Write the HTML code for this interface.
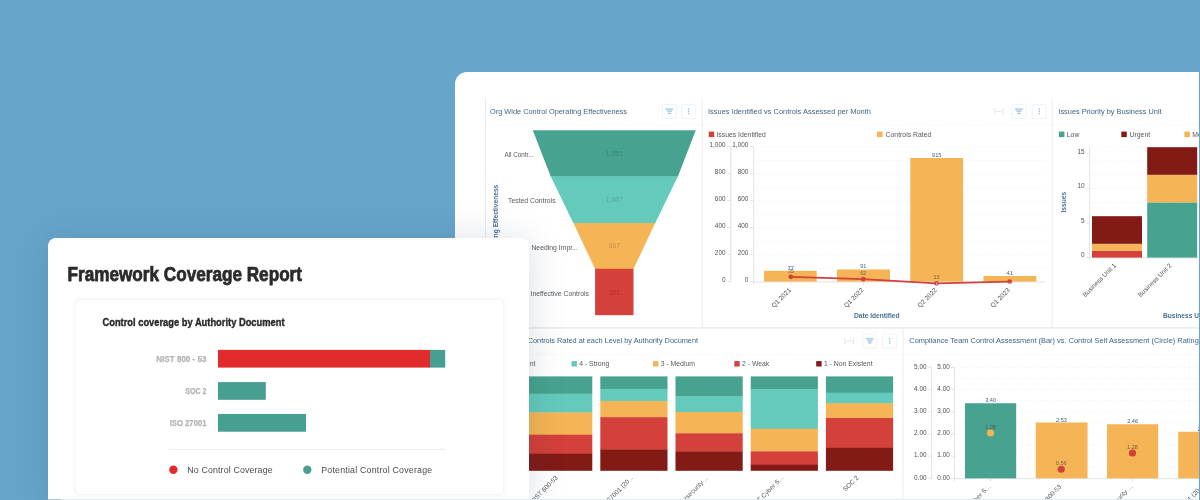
<!DOCTYPE html>
<html lang="en"><head><meta charset="utf-8"><title>Framework Coverage Report</title>
<style>
html,body{margin:0;padding:0}
body{width:1200px;height:500px;overflow:hidden;background:#66a6cb;position:relative;font-family:"Liberation Sans",Arial,sans-serif}
.dash{position:absolute;left:455px;top:72px;width:744px;height:440px;background:#fff;border-radius:12px 0 0 0}
.dsvg{position:absolute;left:0;top:0;width:1200px;height:500px;filter:blur(.42px)}
.dsvg text{font-family:"Liberation Sans",Arial,sans-serif}
.ttl{font-size:7.4px;fill:#3f6482}
.ax{font-size:6.85px;fill:#55595d}
.axr{font-size:6.4px;fill:#55595d}
.axn{font-size:6.4px;fill:#4b4f53}
.axb{font-size:6.6px;fill:#4a7192;font-weight:bold}
.val{font-size:6.85px;fill:#000;fill-opacity:.2}
.lbl{font-size:5.6px;fill:#3f6482}
.lbl2{font-size:5.6px;fill:#4a4a3a;fill-opacity:.75}
.card{position:absolute;left:47.5px;top:237.5px;width:481.5px;height:261.2px;background:#fff;border-radius:8px 8px 0 0;box-shadow:0 3px 36px rgba(25,45,70,.17)}
.inner{position:absolute;left:27px;top:61px;width:429.9px;height:196.3px;border:1px solid #f3f5f8;border-radius:4px;box-sizing:border-box;box-shadow:0 0 3px rgba(120,140,160,.10)}
.strip{position:absolute;left:47.5px;top:499px;width:1151.5px;height:1px;background:linear-gradient(90deg,#a9c6dc 0,#a9c6dc 12px,#dfeaf3 13px,#dfeaf3 100%)}
.csvg{position:absolute;left:0;top:0;width:1200px;height:500px}
.csvg text{font-family:"Liberation Sans",Arial,sans-serif}
.h1{font-size:20px;font-weight:bold;fill:#2b2b2b;stroke:#2b2b2b;stroke-width:.75px;stroke-linejoin:round}
.h2{font-size:11px;font-weight:bold;fill:#2b2b2b;stroke:#2b2b2b;stroke-width:.4px;stroke-linejoin:round}
.cat{font-size:9.4px;font-weight:bold;fill:#b3b3b3;stroke:#b3b3b3;stroke-width:.25px}
.lg{font-size:8.8px;fill:#4a4a4a}
</style></head>
<body>
<div class="dash"></div>
<svg class="dsvg" viewBox="0 0 1200 500">
<defs><clipPath id="dc"><path d="M455 500V84a12 12 0 0 1 12-12H1199V500Z"/></clipPath></defs>
<g clip-path="url(#dc)">
<line x1="485.5" y1="98" x2="485.5" y2="327" stroke="#e9ebee" stroke-width="1"/>
<line x1="485.5" y1="327.9" x2="1199" y2="327.9" stroke="#ececee" stroke-width="1.6"/>
<line x1="702.2" y1="99" x2="702.2" y2="327" stroke="#efeff1" stroke-width="1.2"/>
<line x1="1052.2" y1="99" x2="1052.2" y2="327" stroke="#efeff1" stroke-width="1.2"/>
<line x1="903.1" y1="329" x2="903.1" y2="500" stroke="#efeff1" stroke-width="1.2"/>
<line x1="486" y1="124.6" x2="702" y2="124.6" stroke="#ebeef1" stroke-width="0.8" stroke-dasharray="1 1.5"/>
<line x1="703" y1="124.6" x2="1051.5" y2="124.6" stroke="#ebeef1" stroke-width="0.8" stroke-dasharray="1 1.5"/>
<line x1="1053" y1="124.6" x2="1199" y2="124.6" stroke="#ebeef1" stroke-width="0.8" stroke-dasharray="1 1.5"/>
<line x1="486" y1="354.6" x2="903" y2="354.6" stroke="#ebeef1" stroke-width="0.8" stroke-dasharray="1 1.5"/>
<line x1="904" y1="354.6" x2="1199" y2="354.6" stroke="#ebeef1" stroke-width="0.8" stroke-dasharray="1 1.5"/>
<text x="490" y="113.8" class="ttl" text-anchor="start" textLength="137" lengthAdjust="spacingAndGlyphs">Org Wide Control Operating Effectiveness</text>
<rect x="662.4" y="104.4" width="14" height="14" rx="1.4" fill="#fff" stroke="#eaf0f5" stroke-width="0.8"/>
<path d="M665.5 109.2h7.8M666.8 111.2h5.2M667.6999999999999 113.30000000000001h3.4" stroke="#9cc1e0" stroke-width="1.3" fill="none"/>
<rect x="681.6" y="104.4" width="14" height="14" rx="1.4" fill="#fff" stroke="#eaf0f5" stroke-width="0.8"/>
<circle cx="688.6" cy="109.10000000000001" r="0.8" fill="#9cc1e0"/>
<circle cx="688.6" cy="111.4" r="0.8" fill="#9cc1e0"/>
<circle cx="688.6" cy="113.7" r="0.8" fill="#9cc1e0"/>
<polygon points="532.8,130.2 695.8,130.2 677.8,176.79999999999998 550.8,176.79999999999998" fill="#47a390"/>
<polygon points="550.8,176.6 677.8,176.6 655.2,223.2 573.4,223.2" fill="#64cabb"/>
<polygon points="573.4,223 655.2,223 633.5,269.0 595.1,269.0" fill="#f5b455"/>
<rect x="595.1" y="268.8" width="38.4" height="46.4" fill="#d4403a"/>
<text x="504.5" y="157.3" class="ax" text-anchor="start" textLength="29" lengthAdjust="spacingAndGlyphs">All Contr...</text>
<text x="508" y="203.3" class="ax" text-anchor="start">Tested Controls</text>
<text x="577.8" y="249.6" class="ax" text-anchor="end">Controls Needing Impr...</text>
<text x="589" y="295.8" class="ax" text-anchor="end">Ineffective Controls</text>
<text x="614.4" y="155.8" class="val" text-anchor="middle">1,355</text>
<text x="614.4" y="201.8" class="val" text-anchor="middle">1,007</text>
<text x="614.4" y="248.2" class="val" text-anchor="middle">667</text>
<text x="614.4" y="294.6" class="val" text-anchor="middle">371</text>
<text transform="translate(498 222.5) rotate(-90)" class="axb" text-anchor="middle">Operating Effectiveness</text>
<text x="708" y="113.8" class="ttl" text-anchor="start" textLength="163" lengthAdjust="spacingAndGlyphs">Issues Identified vs Controls Assessed per Month</text>
<path d="M994.8 108.0v6.8M1003.0 108.0v6.8M996.3 111.4h5.2" stroke="#d9e2ea" stroke-width="0.9" fill="none"/>
<rect x="1011.8" y="104.4" width="14" height="14" rx="1.4" fill="#fff" stroke="#eaf0f5" stroke-width="0.8"/>
<path d="M1014.9 109.2h7.8M1016.1999999999999 111.2h5.2M1017.0999999999999 113.30000000000001h3.4" stroke="#9cc1e0" stroke-width="1.3" fill="none"/>
<rect x="1032.2" y="104.4" width="14" height="14" rx="1.4" fill="#fff" stroke="#eaf0f5" stroke-width="0.8"/>
<circle cx="1039.2" cy="109.10000000000001" r="0.8" fill="#9cc1e0"/>
<circle cx="1039.2" cy="111.4" r="0.8" fill="#9cc1e0"/>
<circle cx="1039.2" cy="113.7" r="0.8" fill="#9cc1e0"/>
<rect x="708.7" y="131.6" width="5.5" height="5.5" fill="#d4403a"/>
<text x="716.4" y="136.8" class="ax" text-anchor="start">Issues Identified</text>
<rect x="877" y="131.6" width="5.5" height="5.5" fill="#f5b455"/>
<text x="885.6" y="136.8" class="ax" text-anchor="start">Controls Rated</text>
<text x="725.5" y="281.70000000000005" class="axn" text-anchor="end">0</text>
<text x="748.3" y="281.70000000000005" class="axn" text-anchor="end">0</text>
<path d="M727.5 281.6h3.3M750.3 281.6h3.3" stroke="#d9e0e6" stroke-width="0.8"/>
<text x="725.5" y="254.68" class="axn" text-anchor="end">200</text>
<text x="748.3" y="254.68" class="axn" text-anchor="end">200</text>
<path d="M727.5 254.58h3.3M750.3 254.58h3.3" stroke="#d9e0e6" stroke-width="0.8"/>
<text x="725.5" y="227.66000000000003" class="axn" text-anchor="end">400</text>
<text x="748.3" y="227.66000000000003" class="axn" text-anchor="end">400</text>
<path d="M727.5 227.56000000000003h3.3M750.3 227.56000000000003h3.3" stroke="#d9e0e6" stroke-width="0.8"/>
<text x="725.5" y="200.64000000000001" class="axn" text-anchor="end">600</text>
<text x="748.3" y="200.64000000000001" class="axn" text-anchor="end">600</text>
<path d="M727.5 200.54000000000002h3.3M750.3 200.54000000000002h3.3" stroke="#d9e0e6" stroke-width="0.8"/>
<text x="725.5" y="173.62000000000003" class="axn" text-anchor="end">800</text>
<text x="748.3" y="173.62000000000003" class="axn" text-anchor="end">800</text>
<path d="M727.5 173.52000000000004h3.3M750.3 173.52000000000004h3.3" stroke="#d9e0e6" stroke-width="0.8"/>
<text x="725.5" y="146.60000000000002" class="axn" text-anchor="end">1,000</text>
<text x="748.3" y="146.60000000000002" class="axn" text-anchor="end">1,000</text>
<path d="M727.5 146.50000000000003h3.3M750.3 146.50000000000003h3.3" stroke="#d9e0e6" stroke-width="0.8"/>
<line x1="756" y1="268.59000000000003" x2="1045" y2="268.59000000000003" stroke="#ecf0f3" stroke-width="0.8" stroke-dasharray="1.2 2"/>
<line x1="756" y1="255.08" x2="1045" y2="255.08" stroke="#ecf0f3" stroke-width="0.8" stroke-dasharray="1.2 2"/>
<line x1="756" y1="241.57000000000002" x2="1045" y2="241.57000000000002" stroke="#ecf0f3" stroke-width="0.8" stroke-dasharray="1.2 2"/>
<line x1="756" y1="228.06000000000003" x2="1045" y2="228.06000000000003" stroke="#ecf0f3" stroke-width="0.8" stroke-dasharray="1.2 2"/>
<line x1="756" y1="214.55" x2="1045" y2="214.55" stroke="#ecf0f3" stroke-width="0.8" stroke-dasharray="1.2 2"/>
<line x1="756" y1="201.04000000000002" x2="1045" y2="201.04000000000002" stroke="#ecf0f3" stroke-width="0.8" stroke-dasharray="1.2 2"/>
<line x1="756" y1="187.53000000000003" x2="1045" y2="187.53000000000003" stroke="#ecf0f3" stroke-width="0.8" stroke-dasharray="1.2 2"/>
<line x1="756" y1="174.02000000000004" x2="1045" y2="174.02000000000004" stroke="#ecf0f3" stroke-width="0.8" stroke-dasharray="1.2 2"/>
<line x1="756" y1="160.51000000000002" x2="1045" y2="160.51000000000002" stroke="#ecf0f3" stroke-width="0.8" stroke-dasharray="1.2 2"/>
<line x1="756" y1="147.00000000000003" x2="1045" y2="147.00000000000003" stroke="#ecf0f3" stroke-width="0.8" stroke-dasharray="1.2 2"/>
<path d="M730.8 146v136M753.6 146v138.5M753.6 281.9H1045" stroke="#d9e0e6" stroke-width="0.9" fill="none"/>
<rect x="764" y="270.8" width="52.7" height="10.8" fill="#f5b455"/>
<rect x="837" y="269.5" width="53.0" height="12.1" fill="#f5b455"/>
<rect x="910.3" y="158" width="52.8" height="123.6" fill="#f5b455"/>
<rect x="983.5" y="276" width="52.8" height="5.6" fill="#f5b455"/>
<text x="790.8" y="269.9" class="lbl" text-anchor="middle">77</text>
<text x="863.3" y="267.5" class="lbl" text-anchor="middle">91</text>
<text x="936.7" y="156.5" class="lbl" text-anchor="middle">915</text>
<text x="1009.7" y="274.5" class="lbl" text-anchor="middle">41</text>
<polyline points="790.8,276.8 863.3,279.2 936.5,283.3 1009.7,281.6" fill="none" stroke="#d4403a" stroke-width="1.8"/>
<circle cx="790.8" cy="276.8" r="2.4" fill="#d4403a"/>
<circle cx="863.3" cy="279.2" r="2.4" fill="#d4403a"/>
<circle cx="936.5" cy="283.3" r="2.4" fill="#d4403a"/>
<circle cx="1009.7" cy="281.6" r="2.4" fill="#d4403a"/>
<text x="790.8" y="272.6" class="lbl2" text-anchor="middle">35</text>
<text x="863.3" y="275.2" class="lbl2" text-anchor="middle">62</text>
<text x="936.5" y="279" class="lbl2" text-anchor="middle">13</text>
<text transform="translate(791.4 290.6) rotate(-45)" class="axr" text-anchor="end">Q1 2021</text>
<path d="M790.8 282.4v2.6" stroke="#d9e0e6" stroke-width="0.8"/>
<text transform="translate(863.9 290.6) rotate(-45)" class="axr" text-anchor="end">Q1 2022</text>
<path d="M863.3 282.4v2.6" stroke="#d9e0e6" stroke-width="0.8"/>
<text transform="translate(937.3000000000001 290.6) rotate(-45)" class="axr" text-anchor="end">Q2 2022</text>
<path d="M936.7 282.4v2.6" stroke="#d9e0e6" stroke-width="0.8"/>
<text transform="translate(1010.3000000000001 290.6) rotate(-45)" class="axr" text-anchor="end">Q1 2023</text>
<path d="M1009.7 282.4v2.6" stroke="#d9e0e6" stroke-width="0.8"/>
<text x="876.8" y="318" class="axb" text-anchor="middle">Date Identified</text>
<text x="1058.4" y="113.8" class="ttl" text-anchor="start" textLength="103.2" lengthAdjust="spacingAndGlyphs">Issues Priority by Business Unit</text>
<rect x="1058.9" y="131.6" width="5.5" height="5.5" fill="#47a390"/>
<text x="1066.8" y="136.8" class="ax" text-anchor="start">Low</text>
<rect x="1121.3" y="131.6" width="5.5" height="5.5" fill="#821b16"/>
<text x="1129.6" y="136.8" class="ax" text-anchor="start">Urgent</text>
<rect x="1184.4" y="131.6" width="5.5" height="5.5" fill="#f5b455"/>
<text x="1192.2" y="136.8" class="ax" text-anchor="start">Medium</text>
<text x="1084.6" y="257.40000000000003" class="axn" text-anchor="end">0</text>
<path d="M1086.4 257.6h3.2" stroke="#d9e0e6" stroke-width="0.8"/>
<text x="1084.6" y="222.90000000000003" class="axn" text-anchor="end">5</text>
<path d="M1086.4 223.10000000000002h3.2" stroke="#d9e0e6" stroke-width="0.8"/>
<text x="1084.6" y="188.40000000000003" class="axn" text-anchor="end">10</text>
<path d="M1086.4 188.60000000000002h3.2" stroke="#d9e0e6" stroke-width="0.8"/>
<text x="1084.6" y="153.90000000000003" class="axn" text-anchor="end">15</text>
<path d="M1086.4 154.10000000000002h3.2" stroke="#d9e0e6" stroke-width="0.8"/>
<line x1="1091" y1="243.8" x2="1199" y2="243.8" stroke="#ecf0f3" stroke-width="0.8" stroke-dasharray="1.2 2"/>
<line x1="1091" y1="230.00000000000003" x2="1199" y2="230.00000000000003" stroke="#ecf0f3" stroke-width="0.8" stroke-dasharray="1.2 2"/>
<line x1="1091" y1="216.20000000000002" x2="1199" y2="216.20000000000002" stroke="#ecf0f3" stroke-width="0.8" stroke-dasharray="1.2 2"/>
<line x1="1091" y1="202.40000000000003" x2="1199" y2="202.40000000000003" stroke="#ecf0f3" stroke-width="0.8" stroke-dasharray="1.2 2"/>
<line x1="1091" y1="188.60000000000002" x2="1199" y2="188.60000000000002" stroke="#ecf0f3" stroke-width="0.8" stroke-dasharray="1.2 2"/>
<line x1="1091" y1="174.8" x2="1199" y2="174.8" stroke="#ecf0f3" stroke-width="0.8" stroke-dasharray="1.2 2"/>
<line x1="1091" y1="161.0" x2="1199" y2="161.0" stroke="#ecf0f3" stroke-width="0.8" stroke-dasharray="1.2 2"/>
<line x1="1091" y1="147.20000000000002" x2="1199" y2="147.20000000000002" stroke="#ecf0f3" stroke-width="0.8" stroke-dasharray="1.2 2"/>
<path d="M1089.6 147v113M1089.6 257.90000000000003H1199" stroke="#d9e0e6" stroke-width="0.9" fill="none"/>
<rect x="1092" y="250.7" width="50.0" height="6.9" fill="#d4403a"/>
<rect x="1092" y="243.8" width="50.0" height="6.9" fill="#f5b455"/>
<rect x="1092" y="216.2" width="50.0" height="27.6" fill="#821b16"/>
<rect x="1147.2" y="202.4" width="50.0" height="55.2" fill="#47a390"/>
<rect x="1147.2" y="174.8" width="50.0" height="27.6" fill="#f5b455"/>
<rect x="1147.2" y="147.2" width="50.0" height="27.6" fill="#821b16"/>
<text transform="translate(1116.6 266) rotate(-45)" class="axr" text-anchor="end">Business Unit 1</text>
<text transform="translate(1172 266) rotate(-45)" class="axr" text-anchor="end">Business Unit 2</text>
<text transform="translate(1066.4 202.2) rotate(-90)" class="axb" text-anchor="middle">Issues</text>
<text x="1163" y="318" class="axb" text-anchor="start">Business Unit</text>
<text x="698" y="343.1" class="ttl" text-anchor="end" textLength="187" lengthAdjust="spacingAndGlyphs">% of Controls Rated at each Level by Authority Document</text>
<path d="M845 337.6v6.8M853.2 337.6v6.8M846.5 341h5.2" stroke="#d9e2ea" stroke-width="0.9" fill="none"/>
<rect x="862.8" y="334" width="14" height="14" rx="1.4" fill="#fff" stroke="#eaf0f5" stroke-width="0.8"/>
<path d="M865.9 338.8h7.8M867.1999999999999 340.8h5.2M868.0999999999999 342.9h3.4" stroke="#9cc1e0" stroke-width="1.3" fill="none"/>
<rect x="882.6" y="334" width="14" height="14" rx="1.4" fill="#fff" stroke="#eaf0f5" stroke-width="0.8"/>
<circle cx="889.6" cy="338.7" r="0.8" fill="#9cc1e0"/>
<circle cx="889.6" cy="341" r="0.8" fill="#9cc1e0"/>
<circle cx="889.6" cy="343.3" r="0.8" fill="#9cc1e0"/>
<rect x="490" y="361.1" width="5.4" height="5.4" fill="#3a8f7e"/>
<text x="497.7" y="366.2" class="ax" text-anchor="start">5 - Excellent</text>
<rect x="571.5" y="361.1" width="5.4" height="5.4" fill="#64cabb"/>
<text x="579.2" y="366.2" class="ax" text-anchor="start">4 - Strong</text>
<rect x="653" y="361.1" width="5.4" height="5.4" fill="#f5b455"/>
<text x="660.7" y="366.2" class="ax" text-anchor="start">3 - Medium</text>
<rect x="734.3" y="361.1" width="5.4" height="5.4" fill="#d4403a"/>
<text x="742.0" y="366.2" class="ax" text-anchor="start">2 - Weak</text>
<rect x="816.2" y="361.1" width="5.4" height="5.4" fill="#821b16"/>
<text x="823.9000000000001" y="366.2" class="ax" text-anchor="start">1 - Non Existent</text>
<rect x="525.1" y="376.4" width="67.2" height="17.6" fill="#47a390"/>
<rect x="525.1" y="393.7" width="67.2" height="19.0" fill="#64cabb"/>
<rect x="525.1" y="412.4" width="67.2" height="22.6" fill="#f5b455"/>
<rect x="525.1" y="434.7" width="67.2" height="19.3" fill="#d4403a"/>
<rect x="525.1" y="453.7" width="67.2" height="17.1" fill="#821b16"/>
<text transform="translate(558.3000000000001 478.3) rotate(-45)" class="axr" text-anchor="end">NIST 800-53</text>
<rect x="600.3" y="376.4" width="67.2" height="12.8" fill="#47a390"/>
<rect x="600.3" y="388.9" width="67.2" height="12.4" fill="#64cabb"/>
<rect x="600.3" y="401" width="67.2" height="16.5" fill="#f5b455"/>
<rect x="600.3" y="417.2" width="67.2" height="32.7" fill="#d4403a"/>
<rect x="600.3" y="449.6" width="67.2" height="21.2" fill="#821b16"/>
<text transform="translate(633.5000000000001 478.3) rotate(-45)" class="axr" text-anchor="end">ISO 27001 (20...</text>
<rect x="675.5" y="376.4" width="67.2" height="20.2" fill="#47a390"/>
<rect x="675.5" y="396.3" width="67.2" height="16.0" fill="#64cabb"/>
<rect x="675.5" y="412" width="67.2" height="21.6" fill="#f5b455"/>
<rect x="675.5" y="433.3" width="67.2" height="18.5" fill="#d4403a"/>
<rect x="675.5" y="451.5" width="67.2" height="19.3" fill="#821b16"/>
<text transform="translate(708.7 478.3) rotate(-45)" class="axr" text-anchor="end">Cybersecurity ...</text>
<rect x="750.7" y="376.4" width="67.2" height="13.0" fill="#47a390"/>
<rect x="750.7" y="389.1" width="67.2" height="39.9" fill="#64cabb"/>
<rect x="750.7" y="428.7" width="67.2" height="23.0" fill="#f5b455"/>
<rect x="750.7" y="451.4" width="67.2" height="13.6" fill="#d4403a"/>
<rect x="750.7" y="464.7" width="67.2" height="6.1" fill="#821b16"/>
<text transform="translate(783.9000000000001 478.3) rotate(-45)" class="axr" text-anchor="end">NIST Cyber S...</text>
<rect x="825.9" y="376.4" width="67.2" height="16.6" fill="#47a390"/>
<rect x="825.9" y="392.7" width="67.2" height="10.9" fill="#64cabb"/>
<rect x="825.9" y="403.3" width="67.2" height="15.0" fill="#f5b455"/>
<rect x="825.9" y="418" width="67.2" height="30.1" fill="#d4403a"/>
<rect x="825.9" y="447.8" width="67.2" height="23.0" fill="#821b16"/>
<text transform="translate(859.1000000000001 478.3) rotate(-45)" class="axr" text-anchor="end">SOC 2</text>
<text x="909.3" y="343.1" class="ttl" text-anchor="start" textLength="289.5" lengthAdjust="spacingAndGlyphs">Compliance Team Control Assessment (Bar) vs. Control Self Assessment (Circle) Rating</text>
<text x="926.5" y="479.5" class="axn" text-anchor="end">0.00</text>
<text x="949.8" y="479.5" class="axn" text-anchor="end">0.00</text>
<path d="M928.4 478.3h3.2M951.2 478.3h3.2" stroke="#d9e0e6" stroke-width="0.8"/>
<line x1="957" y1="467.2" x2="1199" y2="467.2" stroke="#ecf0f3" stroke-width="0.8" stroke-dasharray="1.2 2"/>
<text x="926.5" y="457.3" class="axn" text-anchor="end">1.00</text>
<text x="949.8" y="457.3" class="axn" text-anchor="end">1.00</text>
<path d="M928.4 456.1h3.2M951.2 456.1h3.2" stroke="#d9e0e6" stroke-width="0.8"/>
<line x1="957" y1="456.1" x2="1199" y2="456.1" stroke="#ecf0f3" stroke-width="0.8" stroke-dasharray="1.2 2"/>
<line x1="957" y1="445.0" x2="1199" y2="445.0" stroke="#ecf0f3" stroke-width="0.8" stroke-dasharray="1.2 2"/>
<text x="926.5" y="435.1" class="axn" text-anchor="end">2.00</text>
<text x="949.8" y="435.1" class="axn" text-anchor="end">2.00</text>
<path d="M928.4 433.90000000000003h3.2M951.2 433.90000000000003h3.2" stroke="#d9e0e6" stroke-width="0.8"/>
<line x1="957" y1="433.90000000000003" x2="1199" y2="433.90000000000003" stroke="#ecf0f3" stroke-width="0.8" stroke-dasharray="1.2 2"/>
<line x1="957" y1="422.8" x2="1199" y2="422.8" stroke="#ecf0f3" stroke-width="0.8" stroke-dasharray="1.2 2"/>
<text x="926.5" y="412.90000000000003" class="axn" text-anchor="end">3.00</text>
<text x="949.8" y="412.90000000000003" class="axn" text-anchor="end">3.00</text>
<path d="M928.4 411.70000000000005h3.2M951.2 411.70000000000005h3.2" stroke="#d9e0e6" stroke-width="0.8"/>
<line x1="957" y1="411.70000000000005" x2="1199" y2="411.70000000000005" stroke="#ecf0f3" stroke-width="0.8" stroke-dasharray="1.2 2"/>
<line x1="957" y1="400.6" x2="1199" y2="400.6" stroke="#ecf0f3" stroke-width="0.8" stroke-dasharray="1.2 2"/>
<text x="926.5" y="390.7" class="axn" text-anchor="end">4.00</text>
<text x="949.8" y="390.7" class="axn" text-anchor="end">4.00</text>
<path d="M928.4 389.5h3.2M951.2 389.5h3.2" stroke="#d9e0e6" stroke-width="0.8"/>
<line x1="957" y1="389.5" x2="1199" y2="389.5" stroke="#ecf0f3" stroke-width="0.8" stroke-dasharray="1.2 2"/>
<line x1="957" y1="378.4" x2="1199" y2="378.4" stroke="#ecf0f3" stroke-width="0.8" stroke-dasharray="1.2 2"/>
<text x="926.5" y="368.5" class="axn" text-anchor="end">5.00</text>
<text x="949.8" y="368.5" class="axn" text-anchor="end">5.00</text>
<path d="M928.4 367.3h3.2M951.2 367.3h3.2" stroke="#d9e0e6" stroke-width="0.8"/>
<line x1="957" y1="367.3" x2="1199" y2="367.3" stroke="#ecf0f3" stroke-width="0.8" stroke-dasharray="1.2 2"/>
<path d="M931.6 367v112M954.4 367v114M954.4 478.6H1199" stroke="#d9e0e6" stroke-width="0.9" fill="none"/>
<rect x="965" y="403.25" width="51.2" height="75.1" fill="#47a390"/>
<rect x="1035.75" y="422.5" width="51.8" height="55.8" fill="#f5b455"/>
<rect x="1107" y="424.25" width="51.2" height="54.1" fill="#f5b455"/>
<rect x="1178.25" y="431.75" width="51.8" height="46.6" fill="#f5b455"/>
<text x="990.6" y="402.3" class="lbl" text-anchor="middle">3.40</text>
<text x="1061.5" y="421.5" class="lbl" text-anchor="middle">2.53</text>
<text x="1132.6" y="423.3" class="lbl" text-anchor="middle">2.46</text>
<text x="1203" y="430.7" class="lbl" text-anchor="middle">2.10</text>
<circle cx="990.5" cy="433" r="3.6" fill="#f5b455"/>
<text x="990.5" y="429.1" class="lbl2" text-anchor="middle">2.08</text>
<circle cx="1061.25" cy="469.25" r="3.6" fill="#d4403a"/>
<text x="1061.25" y="465.35" class="lbl2" text-anchor="middle">0.56</text>
<circle cx="1132.5" cy="453" r="3.6" fill="#d4403a"/>
<text x="1132.5" y="449.1" class="lbl2" text-anchor="middle">1.28</text>
<text transform="translate(990.9 487.3) rotate(-45)" class="axr" text-anchor="end">NIST Cyber S...</text>
<path d="M990.6 478.90000000000003v2.6" stroke="#d9e0e6" stroke-width="0.8"/>
<text transform="translate(1061.8 487.3) rotate(-45)" class="axr" text-anchor="end">NIST 800-53</text>
<path d="M1061.5 478.90000000000003v2.6" stroke="#d9e0e6" stroke-width="0.8"/>
<text transform="translate(1132.8999999999999 487.3) rotate(-45)" class="axr" text-anchor="end">Cybersecurity ...</text>
<path d="M1132.6 478.90000000000003v2.6" stroke="#d9e0e6" stroke-width="0.8"/>
<text transform="translate(1204.1 487.3) rotate(-45)" class="axr" text-anchor="end">ISO 27001 (20...</text>
<path d="M1203.8 478.90000000000003v2.6" stroke="#d9e0e6" stroke-width="0.8"/>
</g>
</svg>
<div class="card"><div class="inner"></div></div>
<div class="strip"></div>
<svg class="csvg" viewBox="0 0 1200 500">
<text x="67.5" y="281.3" class="h1" textLength="234.5" lengthAdjust="spacingAndGlyphs">Framework Coverage Report</text>
<text x="102.5" y="326.3" class="h2" textLength="182" lengthAdjust="spacingAndGlyphs">Control coverage by Authority Document</text>
<text x="206.5" y="362.3" class="cat" text-anchor="end" textLength="50.2" lengthAdjust="spacingAndGlyphs">NIST 800 - 53</text>
<text x="206.5" y="394.4" class="cat" text-anchor="end" textLength="21.3" lengthAdjust="spacingAndGlyphs">SOC 2</text>
<text x="206.5" y="426.3" class="cat" text-anchor="end" textLength="36.8" lengthAdjust="spacingAndGlyphs">ISO 27001</text>
<rect x="218" y="349.9" width="212" height="17.7" fill="#e22b2d"/>
<rect x="430" y="349.9" width="15.2" height="17.7" fill="#479f92"/>
<rect x="218" y="382.1" width="47.8" height="17.7" fill="#479f92"/>
<rect x="218" y="414" width="88" height="17.7" fill="#479f92"/>
<line x1="168.7" y1="449.4" x2="445.2" y2="449.4" stroke="#e6e6e6" stroke-width="0.8"/>
<circle cx="173.4" cy="469.8" r="4.2" fill="#e22b2d"/>
<text x="187.3" y="472.9" class="lg" textLength="85.3" lengthAdjust="spacing">No Control Coverage</text>
<circle cx="307.3" cy="469.8" r="4.2" fill="#479f92"/>
<text x="321.2" y="472.9" class="lg" textLength="111" lengthAdjust="spacing">Potential Control Coverage</text>
</svg>
</body></html>
